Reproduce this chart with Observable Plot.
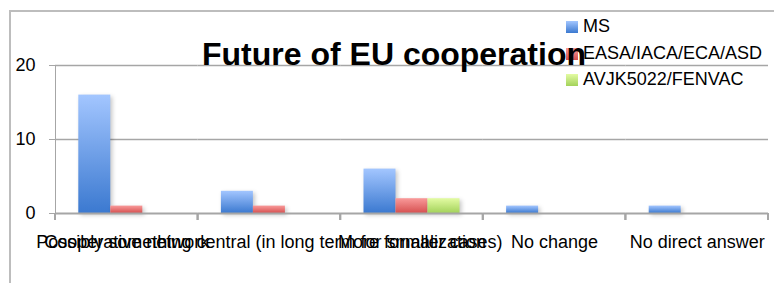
<!DOCTYPE html>
<html>
<head>
<meta charset="utf-8">
<script src="https://cdn.jsdelivr.net/npm/d3@7"></script>
<script src="https://cdn.jsdelivr.net/npm/@observablehq/plot@0.6"></script>
<style>
  html, body { margin: 0; padding: 0; background: #fff; }
  #wrap { position: relative; width: 774px; height: 283px; overflow: hidden; font-family: "Liberation Sans", Arial, sans-serif; }
  #border { position: absolute; left: 9px; top: 10px; width: 820px; height: 320px; border: 2px solid #bdbdbd; box-sizing: border-box; }
  #chart { position: absolute; left: 0; top: 0; }
  #chart svg { color: #a6a6a6; overflow: visible; }
  #chart svg text { fill: #000; }
  #chart svg g[aria-label="bar"] rect { filter: drop-shadow(2px 2px 2px rgba(0,0,0,0.22)); }
  #title { position: absolute; left: 0; width: 788px; top: 38px; line-height: 32px; text-align: center; font-size: 32px; font-weight: bold; color: #000; white-space: nowrap; }
  #legend { position: absolute; left: 566px; top: 14px; font-size: 18px; color: #000; }
  .item { position: relative; height: 26.5px; white-space: nowrap; }
  .sw { position: absolute; left: 0; top: 7px; width: 12px; height: 12px; }
  .lab { position: absolute; left: 17px; top: 0; line-height: 24px; }
</style>
</head>
<body>
<div id="wrap">
  <div id="border"></div>
  <div id="chart"></div>
  <div id="legend"></div>
  <div id="title">Future of EU cooperation</div>
</div>
<script>
// ---- data ----
const categories = [
  "Cooperative network",
  "Possibly something central (in long term for smaller cases)",
  "More formalization",
  "No change",
  "No direct answer"
];
const series = ["MS", "EASA/IACA/ECA/ASD", "AVJK5022/FENVAC"];
const msValues = [16, 3, 6, 1, 1];
const easaValues = [1, 1, 2, 0, 0];
const avjkValues = [0, 0, 2, 0, 0];
const yTicks = [0, 10, 20];

const seriesTop = ["#a3c6ff", "#f99a9a", "#e3fba3"];
const seriesBottom = ["#3b79d0", "#d65050", "#a3d25a"];
const gradIds = ["gMS", "gEASA", "gAVJK"];

const valuesBySeries = [msValues, easaValues, avjkValues];
const rows = [];
categories.forEach((c, i) => {
  series.forEach((s, j) => rows.push({cat: c, series: s, value: valuesBySeries[j][i]}));
});

const ns = "http://www.w3.org/2000/svg";
function defsMark() {
  const defs = document.createElementNS(ns, "defs");
  gradIds.forEach((id, j) => {
    const lg = document.createElementNS(ns, "linearGradient");
    lg.setAttribute("id", id);
    lg.setAttribute("x1", "0"); lg.setAttribute("y1", "0");
    lg.setAttribute("x2", "0"); lg.setAttribute("y2", "1");
    [[0, seriesTop[j]], [1, seriesBottom[j]]].forEach(([o, c]) => {
      const st = document.createElementNS(ns, "stop");
      st.setAttribute("offset", o);
      st.setAttribute("stop-color", c);
      lg.appendChild(st);
    });
    defs.appendChild(lg);
  });
  return defs;
}

function separatorMark(index, scales, values, dims) {
  const g = document.createElementNS(ns, "g");
  g.setAttribute("stroke", "#a6a6a6");
  g.setAttribute("stroke-width", "2");
  const y0 = scales.y(0);
  const xs = [dims.marginLeft, dims.width - dims.marginRight];
  for (const x of xs) {
    const l = document.createElementNS(ns, "line");
    l.setAttribute("x1", x); l.setAttribute("x2", x);
    l.setAttribute("y1", y0); l.setAttribute("y2", y0 + 7);
    g.appendChild(l);
  }
  return g;
}

const chart = Plot.plot({
  width: 774,
  height: 283,
  marginLeft: 55,
  marginRight: 6,
  marginTop: 65,
  marginBottom: 70,
  style: {fontFamily: "Liberation Sans, Arial, sans-serif", fontSize: "18px", background: "transparent"},
  facet: {data: rows, x: "cat"},
  fx: {domain: categories, paddingInner: 0, paddingOuter: 0, round: false, label: null, tickSize: 0, tickPadding: 22},
  x: {domain: series, paddingInner: 0, paddingOuter: 0.728, round: false, axis: null},
  y: {domain: [0, 20], ticks: yTicks, tickSize: 6, tickPadding: 14, label: null, line: true},
  color: {domain: series, range: gradIds.map(id => `url(#${id})`)},
  marks: [
    defsMark,
    Plot.ruleY([10, 20], {stroke: "#a6a6a6", strokeWidth: 1.5}),
    Plot.barY(rows, {x: "series", y: "value", fill: "series"}),
    Plot.ruleY([0], {stroke: "#a6a6a6", strokeWidth: 2}),
    separatorMark
  ]
});
document.getElementById("chart").appendChild(chart);

const legend = document.getElementById("legend");
series.forEach((s, j) => {
  const item = document.createElement("div");
  item.className = "item";
  item.innerHTML = `<span class="sw" style="background:linear-gradient(${seriesTop[j]}, ${seriesBottom[j]})"></span><span class="lab"></span>`;
  item.querySelector(".lab").textContent = s;
  legend.appendChild(item);
});
</script>
</body>
</html>
